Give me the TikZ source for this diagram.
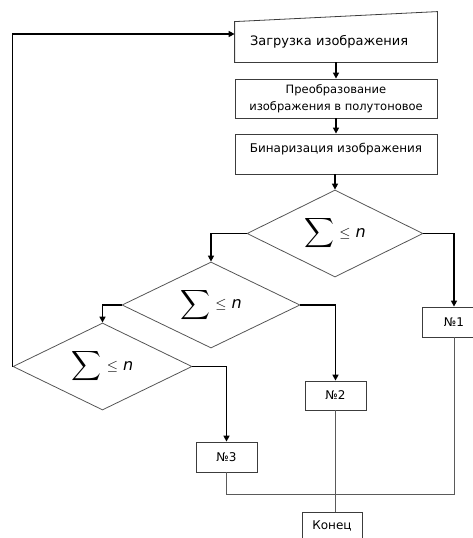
\documentclass[tikz,border=0pt]{standalone}
\usepackage{amsmath}
\usepackage{fontspec}
\setmainfont{DejaVu Sans}
\usetikzlibrary{shapes.geometric,arrows.meta}
\definecolor{boxgray}{RGB}{60,60,60}
\definecolor{diagray}{RGB}{85,85,85}
\definecolor{linegray}{RGB}{90,90,90}
\newcommand\mysumlbl{\smash{\makebox[0pt]{\raisebox{-5pt}{{\fontsize{21}{21}\selectfont$\displaystyle\sum$}\hspace{5pt}\raisebox{1.5pt}{\fontsize{14}{14}\selectfont$\leq$}\hspace{5pt}\raisebox{1.5pt}{\fontsize{16}{16}\selectfont\itshape n}}}}}
\begin{document}
\begin{tikzpicture}[x=1pt,y=-1pt,
  box/.style={draw=boxgray,line width=0.8pt,rectangle,inner sep=0pt,align=center,font=\fontsize{12}{15}\selectfont},
  dec/.style={draw=diagray,line width=0.8pt,diamond,inner sep=0pt},
  flow/.style={line width=1.6pt,-{Triangle[length=6pt,width=6pt]}},
  joinline/.style={draw=linegray,line width=0.8pt}]
\useasboundingbox (0,0) rectangle (473,538);
% boxes
\node[box,draw=none,minimum width=202pt,minimum height=40pt,text width=172pt,align=left,font=\fontsize{13}{15}\selectfont] (load) at (336,42) {Загрузка изображения};
\draw[boxgray,line width=0.8pt] (load.south west) -- (load.north west) -- ([yshift=10pt]load.north east) -- (load.south east) -- cycle;
\node[box,minimum width=202pt,minimum height=39pt,font=\fontsize{11.5}{17}\selectfont] (gray) at (336,98.5) {Преобразование\\изображения в полутоновое};
\node[box,minimum width=202pt,minimum height=40pt,font=\fontsize{12}{12}\selectfont] (bin) at (336,154) {Бинаризация изображения\\\mbox{}};
% decisions
\node[dec,minimum width=176pt,minimum height=87pt] (d1) at (335,233.5) {\mysumlbl};
\node[dec,minimum width=178pt,minimum height=86pt] (d2) at (211,305) {\mysumlbl};
\node[dec,minimum width=179pt,minimum height=87pt] (d3) at (102.5,366.5) {\mysumlbl};
% results
\node[box,minimum width=64pt,minimum height=30pt] (n1) at (454,322) {№1};
\node[box,minimum width=61pt,minimum height=29pt] (n2) at (335.5,395.5) {№2};
\node[box,minimum width=61pt,minimum height=30pt] (n3) at (226.5,457) {№3};
\node[box,minimum width=60pt,minimum height=28pt] (fin) at (332,526) {Конец};
% connectors
\draw[flow] (load.south) -- (gray.north);
\draw[flow] (gray.south) -- (bin.north);
\draw[flow] (d1.north |- bin.south) -- (d1.north);
\draw[flow] (d1.west) -| (d2.north);
\draw[flow] (d1.east) -| (n1.north);
\draw[flow] (d2.west) -| (d3.north);
\draw[flow] (d2.east) -| (n2.north);
\draw[flow] (d3.east) -| (n3.north);
\draw[flow] (d3.west) |- ([yshift=8pt]load.west);
\coordinate (merge) at (335.5,494);
\draw[joinline] (n3.south) |- (merge);
\draw[joinline] (n1.south) |- (merge);
\draw[joinline] (n2.south) -- (n2.south |- fin.north);
\end{tikzpicture}
\end{document}
